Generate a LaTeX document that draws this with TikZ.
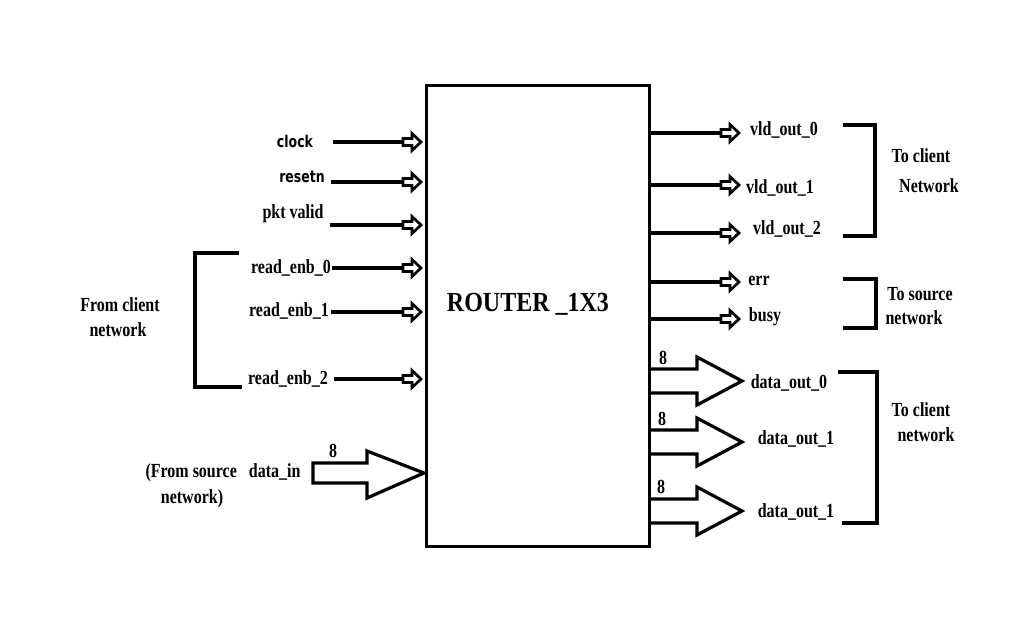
\documentclass[tikz,border=0pt]{standalone}
\usepackage{graphicx}
\usepackage{fontspec}
\setmainfont{Liberation Serif}
\newfontfamily\comicf{DejaVu Sans}
\newcommand\tallt[2]{\scalebox{1}[#1]{#2}}
\begin{document}
\begin{tikzpicture}[x=1pt,y=-1pt,
  lbl/.style={inner sep=0pt, font=\fontsize{16}{18}\selectfont\bfseries},
  cmc/.style={inner sep=0pt, font=\comicf\fontsize{12.5}{14}\selectfont\bfseries},
  ttl/.style={inner sep=0pt, font=\fontsize{24}{26}\selectfont\bfseries},
  wire/.style={line width=3.2pt, line cap=rect},
  bus/.style={line width=3.2pt, line join=miter, fill=white},
  harrow/.pic={\draw[line width=2.7pt, fill=white, line join=miter]
     (-18,-3.5) -- (-9,-3.5) -- (-9,-8.5) -- (0,0) -- (-9,8.5) -- (-9,3.5) -- (-18,3.5) -- cycle;}
]
\useasboundingbox (0,0) rectangle (1021,642);
\fill[white] (0,0) rectangle (1021,642);

% main block
\node[draw, line width=3pt, inner sep=0pt, minimum width=223pt, minimum height=461pt,
      anchor=north west] (router) at (425,84) {};
\node[ttl] (title) at (528,304) {\tallt{1.15}{ROUTER \_1X3}};

% input labels
\node[cmc] (clk) at (295,141) {\tallt{1.3}{clock}};
\node[cmc] (rst) at (302,177) {\tallt{1.3}{resetn}};
\node[lbl] (pkt) at (293,214) {\tallt{1.25}{pkt valid}};
\node[lbl] (re0) at (291,268) {\tallt{1.25}{read\_enb\_0}};
\node[lbl] (re1) at (289,311) {\tallt{1.25}{read\_enb\_1}};
\node[lbl] (re2) at (288,379) {\tallt{1.25}{read\_enb\_2}};

% input wires
\foreach \yy/\xs in {142/335, 182/333, 225/332, 268/334, 312/333, 379/336} {
  \draw[wire] (\xs,\yy) -- (404,\yy);
  \pic at (421,\yy) {harrow};
}

% left bracket
\draw[wire, line cap=butt] (239,253) -- (195,253) -- (195,387) -- (242,387);
\node[lbl] (fc1) at (120,305) {\tallt{1.25}{From client}};
\node[lbl] (fc2) at (118,330) {\tallt{1.25}{network}};

% data in bus
\draw[bus] (367,463) -- (313,463) -- (313,483) -- (367,483) -- (367,498) -- (424,473) -- (367,451) -- cycle;
\node[lbl] (w8in) at (333,451) {\tallt{1.25}{8}};
\node[lbl] (fs1) at (223,473) {\tallt{1.25}{(From source\ \ \ data\_in}};
\node[lbl] (fs2) at (192,499) {\tallt{1.25}{network)}};

% output wires
\foreach \yy in {133,185,233,282,319} {
  \draw[wire] (router.east |- 0,\yy) -- (722,\yy);
  \pic at (739,\yy) {harrow};
}
\node[lbl] (v0) at (784,130) {\tallt{1.25}{vld\_out\_0}};
\node[lbl] (v1) at (780,188) {\tallt{1.25}{vld\_out\_1}};
\node[lbl] (v2) at (787,229) {\tallt{1.25}{vld\_out\_2}};
\node[lbl] (er) at (759,281) {\tallt{1.25}{err}};
\node[lbl] (bs) at (765,317) {\tallt{1.25}{busy}};

% right brackets
\draw[wire, line cap=butt] (843,125) -- (875,125) -- (875,236) -- (843,236);
\node[lbl] (tc1) at (921,156) {\tallt{1.25}{To client}};
\node[lbl] (tc2) at (929,186) {\tallt{1.25}{Network}};
\draw[wire, line cap=butt] (843,279) -- (876,279) -- (876,328) -- (843,328);
\node[lbl] (ts1) at (920,294) {\tallt{1.25}{To source}};
\node[lbl] (ts2) at (914,318) {\tallt{1.25}{network}};

% data out buses
\foreach \yc in {381,442,511} {
  \draw[bus] (router.east |- 0,\yc-12) -- (697,\yc-12) -- (697,\yc-24) -- (742,\yc)
     -- (697,\yc+24) -- (697,\yc+12) -- (router.east |- 0,\yc+12);
}
\node[lbl] (w80) at (663,358) {\tallt{1.25}{8}};
\node[lbl] (w81) at (662,419) {\tallt{1.25}{8}};
\node[lbl] (w82) at (661,487) {\tallt{1.25}{8}};
\node[lbl] (d0) at (789,383) {\tallt{1.25}{data\_out\_0}};
\node[lbl] (d1) at (796,439) {\tallt{1.25}{data\_out\_1}};
\node[lbl] (d2) at (796,512) {\tallt{1.25}{data\_out\_1}};

\draw[wire, line cap=butt] (838,372) -- (877,372) -- (877,523) -- (842,523);
\node[lbl] (tc3) at (921,410) {\tallt{1.25}{To client}};
\node[lbl] (tc4) at (926,435) {\tallt{1.25}{network}};
\end{tikzpicture}
\end{document}
